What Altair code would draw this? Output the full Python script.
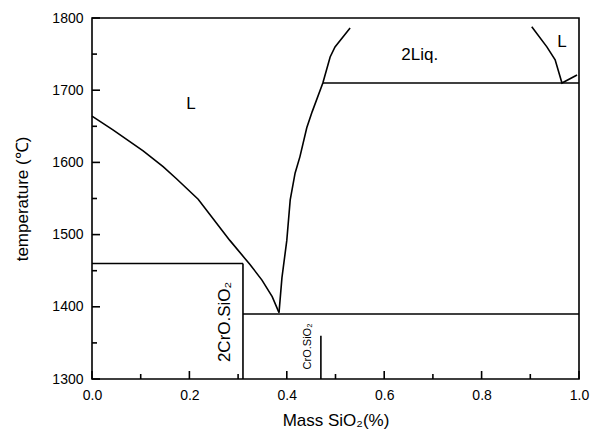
import altair as alt
import pandas as pd

FONT = "Liberation Sans"

# Liquidus branches
left_x = [0.0, 0.043, 0.105, 0.146, 0.174, 0.218, 0.283, 0.314, 0.324, 0.349, 0.370, 0.384]
left_y = [1664, 1645, 1616, 1594, 1577, 1549, 1492, 1467, 1459, 1437, 1414, 1392]
mid_x = [0.384, 0.390, 0.400, 0.407, 0.417, 0.427, 0.441, 0.452, 0.474, 0.489, 0.499, 0.530]
mid_y = [1392, 1440, 1492, 1548, 1585, 1608, 1648, 1670, 1710, 1746, 1760, 1786]
right_x = [0.903, 0.934, 0.951, 0.965, 0.996]
right_y = [1788, 1760, 1742, 1710, 1721]

# Straight boundaries (x list, y list per segment)
seg_h1460_x = [0.0, 0.31]
seg_h1460_y = [1460, 1460]
seg_v031_x = [0.31, 0.31]
seg_v031_y = [1300, 1460]
seg_h1390_x = [0.31, 1.0]
seg_h1390_y = [1390, 1390]
seg_cro_x = [0.47, 0.47]
seg_cro_y = [1300, 1360]
seg_h1710_x = [0.474, 1.0]
seg_h1710_y = [1710, 1710]

# Region labels
lab_text = ["L", "2Liq.", "L"]
lab_x = [0.203, 0.673, 0.965]
lab_y = [1681, 1749, 1767]
rot_text = ["2CrO.SiO₂", "CrO.SiO₂"]
rot_x = [0.274, 0.443]
rot_y = [1379, 1345]
rot_size = [17, 11]

x_major = [0.0, 0.2, 0.4, 0.6, 0.8, 1.0]
x_minor = [0.1, 0.3, 0.5, 0.7, 0.9]
y_major = [1300, 1400, 1500, 1600, 1700, 1800]
y_minor = [1350, 1450, 1550, 1650, 1750]

W, H = 487, 361
X0, X1, Y0, Y1 = 0.0, 1.0, 1300, 1800
MAJOR_LEN, MINOR_LEN = 8, 5

rows = []
segs = [
    ("left", left_x, left_y), ("mid", mid_x, mid_y), ("right", right_x, right_y),
    ("h1460", seg_h1460_x, seg_h1460_y), ("v031", seg_v031_x, seg_v031_y),
    ("h1390", seg_h1390_x, seg_h1390_y), ("cro", seg_cro_x, seg_cro_y),
    ("h1710", seg_h1710_x, seg_h1710_y),
]
for name, xs_, ys_ in segs:
    for i, (a, b) in enumerate(zip(xs_, ys_)):
        rows.append({"seg": name, "i": i, "x": a, "y": b})
lines_df = pd.DataFrame(rows)

# inward axis ticks: tick length in pixels converted to data units
tick_rows = []
for vals, L in ((x_major, MAJOR_LEN), (x_minor, MINOR_LEN)):
    for v in vals:
        tick_rows.append({"x": v, "x2": v, "y": Y0, "y2": Y0 + L * (Y1 - Y0) / H})
for vals, L in ((y_major, MAJOR_LEN), (y_minor, MINOR_LEN)):
    for v in vals:
        tick_rows.append({"x": X0, "x2": X0 + L * (X1 - X0) / W, "y": v, "y2": v})
ticks_df = pd.DataFrame(tick_rows)

xs = alt.Scale(domain=[X0, X1], nice=False, zero=False)
ys = alt.Scale(domain=[Y0, Y1], nice=False, zero=False)

x_axis = alt.Axis(values=x_major, format=".1f", ticks=False, domain=False, grid=False,
                  labelFlush=False, labelOverlap=False,
                  labelPadding=9, labelFontSize=14, labelFont=FONT, labelColor="black",
                  title="Mass SiO₂(%)", titleFont=FONT, titleFontSize=17,
                  titleFontWeight="normal", titleColor="black", titlePadding=10)
y_axis = alt.Axis(values=y_major, format="d", ticks=False, domain=False, grid=False,
                  labelFlush=False, labelOverlap=False,
                  labelPadding=9, labelFontSize=14, labelFont=FONT, labelColor="black",
                  title="temperature (℃)", titleFont=FONT, titleFontSize=17,
                  titleFontWeight="normal", titleColor="black", titlePadding=20)

lines = alt.Chart(lines_df).mark_line(color="black", strokeWidth=1.6).encode(
    x=alt.X("x:Q", scale=xs, axis=x_axis),
    y=alt.Y("y:Q", scale=ys, axis=y_axis),
    detail="seg:N",
    order="i:Q",
)

ticks = alt.Chart(ticks_df).mark_rule(color="black", strokeWidth=1.6).encode(
    x=alt.X("x:Q", scale=xs), x2="x2:Q", y=alt.Y("y:Q", scale=ys), y2="y2:Q"
)

labels = alt.Chart(pd.DataFrame({"t": lab_text, "x": lab_x, "y": lab_y})).mark_text(
    font=FONT, fontSize=17, color="black"
).encode(x=alt.X("x:Q", scale=xs), y=alt.Y("y:Q", scale=ys), text="t:N")

rot = alt.Chart(pd.DataFrame({"t": rot_text, "x": rot_x, "y": rot_y, "s": rot_size})).mark_text(
    font=FONT, color="black", angle=270
).encode(x=alt.X("x:Q", scale=xs), y=alt.Y("y:Q", scale=ys), text="t:N",
         size=alt.Size("s:Q", scale=None, legend=None))

chart = alt.layer(lines, ticks, labels, rot).properties(
    width=W, height=H,
    autosize=alt.AutoSizeParams(type="none"),
    padding={"left": 92, "top": 18, "right": 17, "bottom": 56},
    background="white",
).configure_view(stroke="black", strokeWidth=1.6)

chart.save("out.html", embed_options={"renderer": "svg", "actions": False})
